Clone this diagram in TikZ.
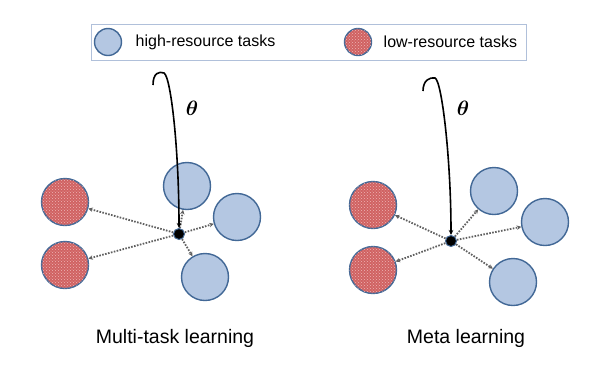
\documentclass[tikz,border=0pt]{standalone}
\usepackage{amsmath,amssymb}
\usepackage{fontspec}
\setmainfont{Liberation Sans}
\usepackage{tikz}
\usetikzlibrary{arrows.meta,positioning,patterns}
\usepackage{xcolor}

\definecolor{taskblue}{RGB}{180,199,226}
\definecolor{taskred}{RGB}{208,98,98}
\definecolor{taskdots}{RGB}{238,180,180}
\definecolor{taskrim}{RGB}{66,104,150}
\definecolor{framecol}{RGB}{176,192,218}

\tikzset{
  high/.style={circle,draw=taskrim,line width=1.4pt,fill=taskblue,minimum size=47pt,inner sep=0pt},
  low/.style={circle,draw=taskrim,line width=1.4pt,fill=taskred,minimum size=47pt,inner sep=0pt,
    postaction={pattern=crosshatch dots,pattern color=taskdots}},
  core/.style={circle,draw=taskrim,line width=1pt,fill=black,minimum size=11pt,inner sep=0pt},
  spread/.style={gray!75!black,line width=1.8pt,dash pattern=on 1.6pt off 1.4pt,
    -{Stealth[length=4.5pt,width=4.5pt]}},
  hook/.style={black,line width=1.6pt,-{Stealth[length=5pt,width=4.5pt]}},
  keytext/.style={font=\fontsize{16}{19}\selectfont,inner sep=3.3pt},
  caption/.style={font=\fontsize{19.5}{23}\selectfont},
  param/.style={font=\fontsize{20}{24}\selectfont}
}

\begin{document}
\begin{tikzpicture}[x=1pt,y=-1pt]
  \useasboundingbox (0,0) rectangle (601,365);
  % legend
  \draw[framecol,line width=0.9pt] (91,24) rectangle (526,60);
  \node[high,minimum size=27pt] (keyHigh) at (108,42) {};
  \node[keytext,right=10pt of keyHigh] (keyHighTxt) {high-resource tasks};
  \node[low,minimum size=27pt] (keyLow) at (358,42) {};
  \node[keytext,right=8pt of keyLow] (keyLowTxt) {low-resource tasks};

  % multi-task learning
  \node[low]  (mtllowA)  at (65,202) {};
  \node[low]  (mtllowB)  at (65,265) {};
  \node[high] (mtlhighA) at (187,186) {};
  \node[high] (mtlhighB) at (237,217) {};
  \node[high] (mtlhighC) at (205,277) {};
  \node[core] (mtlCore)  at (179,234) {};
  \foreach \t in {lowA,lowB,highA,highB,highC}{
    \draw[spread] (mtlCore) -- (mtl\t);
  }
  \coordinate (mtlStart) at (153,85);
  \draw[hook] (mtlStart) .. controls (153,73) and (159,71) .. (164,73)
    .. controls (171,77) and (179,150) .. (mtlCore.north);
  \node[param] (mtlTheta) at (192,108) {$\boldsymbol{\theta}$};
  \node[caption] (mtlName) at (175,338) {Multi-task learning};

  % meta learning
  \node[low]  (metalowA)  at (373,205) {};
  \node[low]  (metalowB)  at (373,270) {};
  \node[high] (metahighA) at (494,191) {};
  \node[high] (metahighB) at (545,222) {};
  \node[high] (metahighC) at (513,282) {};
  \node[core] (metaCore)  at (451,241) {};
  \foreach \t in {lowA,lowB,highA,highB,highC}{
    \draw[spread] (metaCore) -- (meta\t);
  }
  \coordinate (metaStart) at (423,91);
  \draw[hook] (metaStart) .. controls (423,80) and (430,77) .. (435,78)
    .. controls (442,81) and (451,160) .. (metaCore.north);
  \node[param] (metaTheta) at (463,108) {$\boldsymbol{\theta}$};
  \node[caption] (metaName) at (466,338) {Meta learning};
\end{tikzpicture}
\end{document}
